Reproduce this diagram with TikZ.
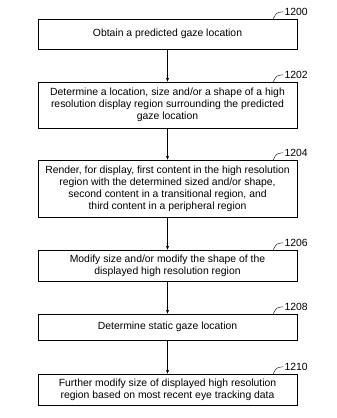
\documentclass[tikz,border=0pt]{standalone}
\usepackage{fontspec}
\setmainfont{Liberation Sans}
\usetikzlibrary{arrows.meta,positioning,shadows}

\begin{document}
\begin{tikzpicture}[x=1pt, y=1pt, >={Stealth[length=4pt,width=3.2pt]},
  stepbox/.style={draw, line width=0.6pt, fill=white, minimum width=259pt, align=center,
    font=\fontsize{10.4}{12}\selectfont, inner sep=2pt,
    drop shadow={shadow xshift=1.2pt, shadow yshift=-1.2pt, fill=black, opacity=1}},
  reflabel/.style={font=\fontsize{10.4}{11}\selectfont, anchor=west, inner sep=1pt},
  flow/.style={->, line width=0.6pt}]

% ---------------- 1. FRAME ----------------
\useasboundingbox (0,0) rectangle (337,-418);

% ---------------- 2. STEPS ----------------
\node[stepbox, minimum height=30pt] (S1200) at (167.5,-34) {Obtain a predicted gaze location};
\node[stepbox, minimum height=46pt] (S1202) at (167.5,-105) {Determine a location, size and/or a shape of a high\\resolution display region surrounding the predicted\\gaze location};
\node[stepbox, minimum height=57pt] (S1204) at (167.5,-188.5) {Render, for display, first content in the high resolution\\region with the determined sized and/or shape,\\second content in a transitional region, and\\third content in a peripheral region};
\node[stepbox, minimum height=31pt] (S1206) at (167.5,-265.5) {Modify size and/or modify the shape of the\\displayed high resolution region};
\node[stepbox, minimum height=26pt] (S1208) at (167.5,-327) {Determine static gaze location};
\node[stepbox, minimum height=31pt] (S1210) at (167.5,-389.5) {Further modify size of displayed high resolution\\region based on most recent eye tracking data};

% ---------------- 3. CONNECTORS ----------------
\draw[flow] (S1200) -- (S1202);
\draw[flow] (S1202) -- (S1204);
\draw[flow] (S1204) -- (S1206);
\draw[flow] (S1206) -- (S1208);
\draw[flow] (S1208) -- (S1210);

% ---------------- 4. REFERENCE NUMERALS ----------------
\foreach \s in {1200,1202,1204,1206,1208,1210} {
  \node[reflabel] (L\s) at ([xshift=-14pt, yshift=7pt]S\s.north east) {\s};
  \draw[thin] ([xshift=-24pt]S\s.north east) .. controls ([xshift=-21pt, yshift=6pt]S\s.north east) .. (L\s.west);
}

\end{tikzpicture}
\end{document}
